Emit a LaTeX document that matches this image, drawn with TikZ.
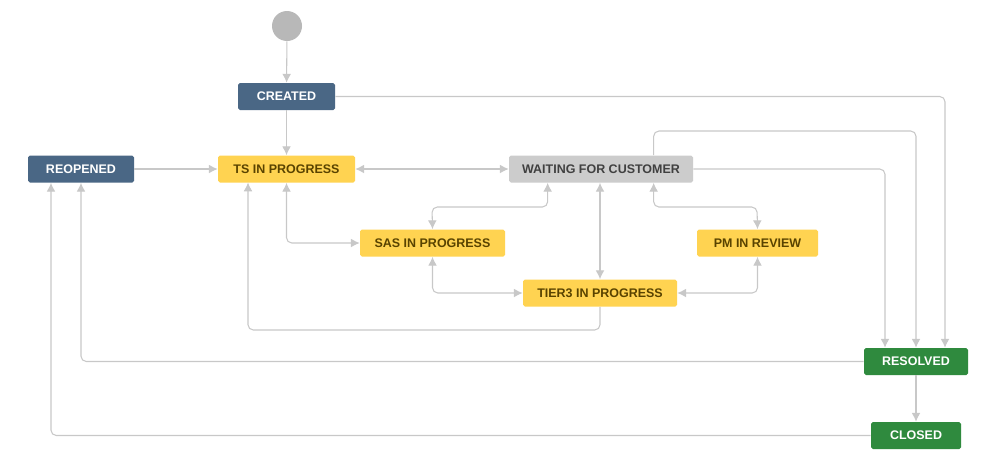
\documentclass[tikz,border=0pt]{standalone}
\usepackage{fontspec}
\setmainfont{Liberation Sans}
\usetikzlibrary{calc,arrows.meta}
\definecolor{jblue}{HTML}{4A6785}
\definecolor{jyellow}{HTML}{FFD351}
\definecolor{jgray}{HTML}{CCCCCC}
\definecolor{jgreen}{HTML}{2F8A3E}
\definecolor{jline}{HTML}{C8C8C8}
\definecolor{jtext}{HTML}{594300}
\tikzset{
  state/.style={rounded corners=1pt, minimum height=0.54cm, inner sep=0pt,
    font=\fontsize{7.1}{9}\selectfont\bfseries, minimum width=#1*0.02cm},
  blue/.style={state=#1, fill=jblue, text=white},
  yel/.style={state=#1, fill=jyellow, text=jtext},
  grey/.style={state=#1, fill=jgray, text=black!75},
  green/.style={state=#1, fill=jgreen, text=white},
  flow/.style={draw=jline, line width=0.6pt, rounded corners=3pt, -{Latex[length=5pt,width=5pt]}},
  both/.style={flow, {Latex[length=5pt,width=5pt]}-{Latex[length=5pt,width=5pt]}}
}
\begin{document}
\begin{tikzpicture}[x=0.02cm,y=-0.02cm]
  \useasboundingbox[fill=white] (0,0) rectangle (999,474);
  % states
  \node[circle, fill=jgray!90!black, minimum size=0.6cm, inner sep=0pt] (start) at (287,26) {};
  \node[blue=97] (created) at (286.5,96.5) {CREATED};
  \node[blue=106] (reopened) at (81,169) {REOPENED};
  \node[yel=137] (ts) at (286.5,169) {TS IN PROGRESS};
  \node[grey=184] (wfc) at (601,169) {WAITING FOR CUSTOMER};
  \node[yel=145] (sas) at (432.5,243) {SAS IN PROGRESS};
  \node[yel=121] (pm) at (757.5,243) {PM IN REVIEW};
  \node[yel=154] (tier) at (600,293) {TIER3 IN PROGRESS};
  \node[green=104] (resolved) at (916,361.5) {RESOLVED};
  \node[green=90] (closed) at (916,435.5) {CLOSED};
  % transitions
  \draw[flow] (start) -- (created);
  \draw[flow] (created) -- (ts);
  \draw[flow] (created.east) -| ($(resolved.north)+(29,0)$);
  \draw[flow] (reopened) -- (ts);
  \draw[both] (ts) -- (wfc);
  \draw[both] (ts.south) |- (sas.west);
  \draw[both] ($(wfc.south west)+(39,0)$) |- (432,207) -- (sas.north);
  \draw[both] (wfc.south -| tier.north) -- (tier.north);
  \draw[both] ($(wfc.south west)+(145,0)$) |- (757,207) -- (pm.north);
  \draw[both] (sas.south) |- (tier.west);
  \draw[both] (tier.east) -| (pm.south);
  \draw[flow] (tier.south) |- (248,330) -- (248,182.5);
  \draw[flow] (wfc.east) -| ($(resolved.north)+(-31,0)$);
  \draw[flow] ($(wfc.north west)+(145,0)$) |- (916,131) -- (resolved.north);
  \draw[flow] (resolved.west) -| (reopened.south);
  \draw[flow] (resolved) -- (closed);
  \draw[flow] (closed.west) -| ($(reopened.south)+(-30,0)$);
\end{tikzpicture}
\end{document}
